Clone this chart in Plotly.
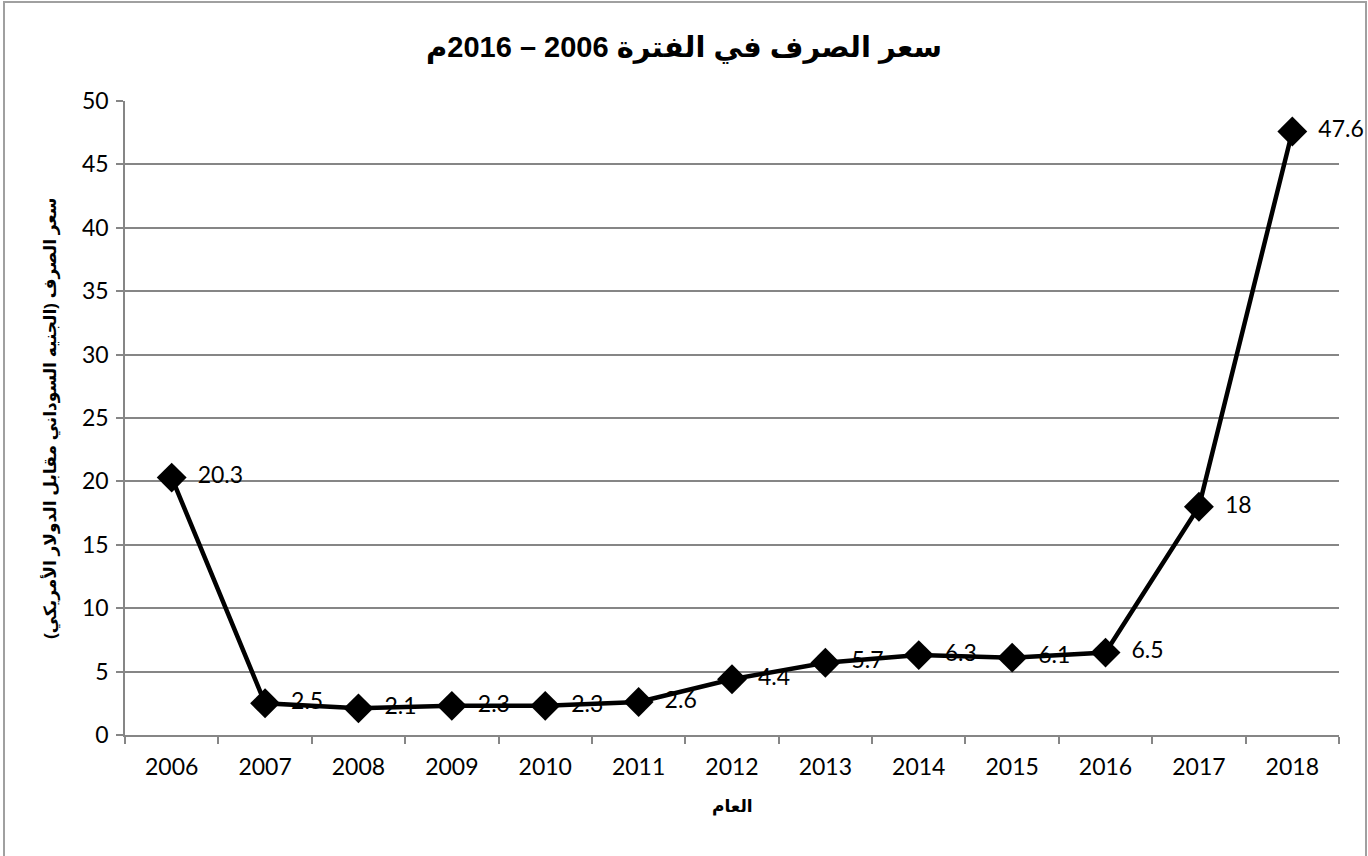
import plotly.graph_objects as go

years = ["2006", "2007", "2008", "2009", "2010", "2011", "2012", "2013", "2014", "2015", "2016", "2017", "2018"]
rates = [20.3, 2.5, 2.1, 2.3, 2.3, 2.6, 4.4, 5.7, 6.3, 6.1, 6.5, 18, 47.6]
labels = ["20.3", "2.5", "2.1", "2.3", "2.3", "2.6", "4.4", "5.7", "6.3", "6.1", "6.5", "18", "47.6"]

title_text = "سعر الصرف في الفترة 2006 – 2016م"
y_title = "سعر الصرف (الجنيه السوداني مقابل الدولار الأمريكي)"
x_title = "العام"

tick_font = dict(family="Lato, Open Sans, sans-serif", size=23, color="#000000")
label_font = dict(family="Lato, Open Sans, sans-serif", size=23, color="#000000")
bold_font = "Liberation Sans, Arial, DejaVu Sans, sans-serif"

fig = go.Figure()
# labels drawn first so the line sits above them
fig.add_trace(go.Scatter(
    x=years, y=rates, mode="markers+text", text=labels,
    textposition="middle right", textfont=label_font,
    marker=dict(size=40, color="rgba(0,0,0,0)"),
    hoverinfo="skip", showlegend=False, cliponaxis=False,
))
fig.add_trace(go.Scatter(
    x=years, y=rates, mode="lines+markers",
    line=dict(color="#000000", width=4.5),
    marker=dict(symbol="diamond", size=23, color="#000000"),
    showlegend=False, cliponaxis=False,
))

fig.update_layout(
    width=1368, height=856,
    margin=dict(l=125, r=29, t=101, b=121),
    paper_bgcolor="white", plot_bgcolor="white",
    title=dict(text="<b>" + title_text + "</b>", x=0.5, xref="container", xanchor="center",
               y=1 - 47 / 856, yref="container", yanchor="middle",
               font=dict(family=bold_font, size=29, color="#000000")),
    xaxis=dict(
        type="category", range=[-0.5, len(years) - 0.5], autorange=False,
        showgrid=False, showline=True, linecolor="#868686", linewidth=1.5,
        ticks="outside", tickson="boundaries", ticklen=7, tickcolor="#868686", tickwidth=1.5,
        tickfont=tick_font, ticklabelstandoff=11, zeroline=False,
    ),
    yaxis=dict(
        range=[0, 50], autorange=False, dtick=5, showgrid=True, gridcolor="#868686", gridwidth=1.5,
        showline=True, linecolor="#868686", linewidth=1.5, zeroline=False,
        ticks="outside", ticklen=7, tickcolor="#868686", tickwidth=1.5,
        tickfont=tick_font, ticklabelstandoff=3,
    ),
    annotations=[
        dict(text="<b>" + x_title + "</b>", xref="paper", yref="paper", x=0.5, y=(735 - 806) / 634,
             showarrow=False, xanchor="center", yanchor="middle",
             font=dict(family=bold_font, size=17, color="#000000")),
        dict(text="<b>" + y_title + "</b>", xref="paper", yref="paper", x=(50 - 125) / 1214, y=0.5,
             showarrow=False, xanchor="center", yanchor="middle", textangle=-90,
             font=dict(family=bold_font, size=17, color="#000000")),
    ],
    shapes=[
        dict(type="rect", xref="paper", yref="paper",
             x0=(4 - 125) / 1214, x1=(1366 - 125) / 1214,
             y0=(735 - 870) / 634, y1=(735 - 2) / 634,
             line=dict(color="#A0A0A0", width=2), fillcolor="rgba(0,0,0,0)", layer="below"),
    ],
)

fig.write_html("out.html")
